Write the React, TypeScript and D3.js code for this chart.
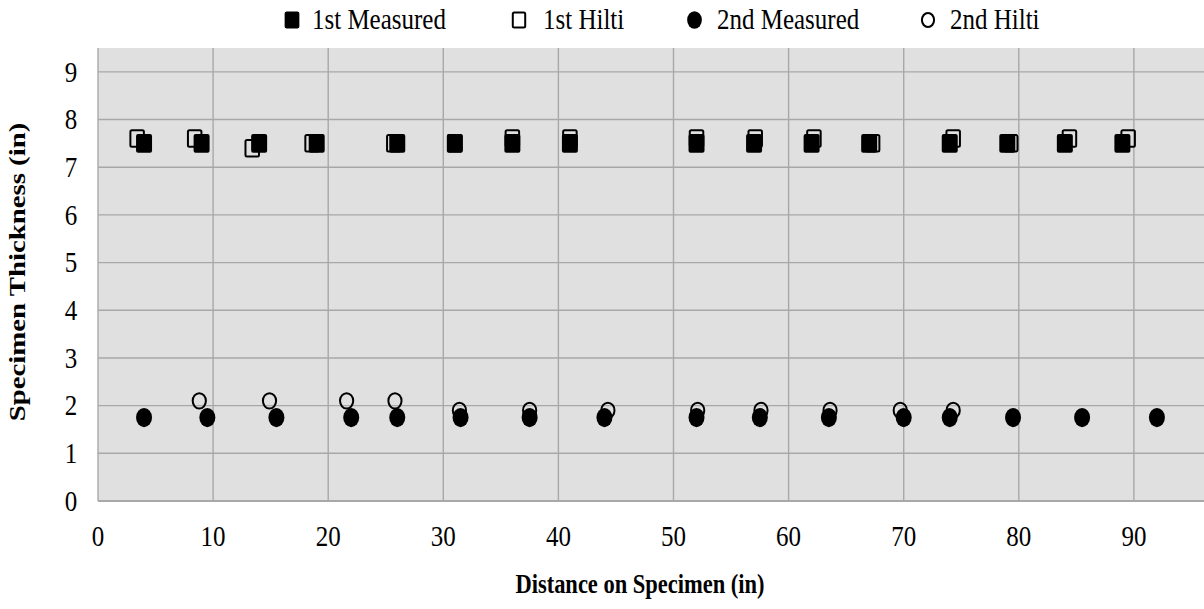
import React from "react";
import * as d3 from "d3";

// ---- data ----
const xTicks = [0, 10, 20, 30, 40, 50, 60, 70, 80, 90];
const yTicks = [0, 1, 2, 3, 4, 5, 6, 7, 8, 9];

const firstMeasuredX = [4, 9, 14, 19, 26, 31, 36, 41, 52, 57, 62, 67, 74, 79, 84, 89];
const firstMeasuredY = [7.5, 7.5, 7.5, 7.5, 7.5, 7.5, 7.5, 7.5, 7.5, 7.5, 7.5, 7.5, 7.5, 7.5, 7.5, 7.5];

const firstHiltiX = [3.4, 8.4, 13.4, 18.6, 25.7, 31, 36, 41, 52, 57.1, 62.2, 67.3, 74.3, 79.3, 84.4, 89.5];
const firstHiltiY = [7.6, 7.6, 7.4, 7.5, 7.5, 7.5, 7.6, 7.6, 7.6, 7.6, 7.6, 7.5, 7.6, 7.5, 7.6, 7.6];

const secondMeasuredX = [4, 9.5, 15.5, 22, 26, 31.5, 37.5, 44, 52, 57.5, 63.5, 70, 74, 79.5, 85.5, 92];
const secondMeasuredY = [1.75, 1.75, 1.75, 1.75, 1.75, 1.75, 1.75, 1.75, 1.75, 1.75, 1.75, 1.75, 1.75, 1.75, 1.75, 1.75];

const secondHiltiX = [8.8, 14.9, 21.6, 25.8, 31.4, 37.5, 44.3, 52.1, 57.6, 63.6, 69.7, 74.3];
const secondHiltiY = [2.1, 2.1, 2.1, 2.1, 1.9, 1.9, 1.9, 1.9, 1.9, 1.9, 1.9, 1.9];

const legendLabels = ["1st Measured", "1st Hilti", "2nd Measured", "2nd Hilti"];
const xTitle = "Distance on Specimen (in)";
const yTitle = "Specimen Thickness (in)";

// ---- layout ----
const W = 1204;
const H = 609;
const left = 98;
const top = 48;
const bottom = 501;
const SY = 1.17; // vertical stretch of the original picture
const FONT = '"Liberation Serif", serif';

const zip = (xs: number[], ys: number[]) => xs.map((x, i) => ({ x, y: ys[i] }));

export default function App() {
  const xs = d3.scaleLinear().domain([0, 100]).range([left, left + 1151]);
  const ys = d3.scaleLinear().domain([0, 9.5]).range([bottom, top]);

  const fm = zip(firstMeasuredX, firstMeasuredY);
  const fh = zip(firstHiltiX, firstHiltiY);
  const sm = zip(secondMeasuredX, secondMeasuredY);
  const sh = zip(secondHiltiX, secondHiltiY);

  const grid = "#a8a8a8";

  const legendItems = [
    { kind: "fsq", mx: 292, tx: 312 },
    { kind: "osq", mx: 519, tx: 543 },
    { kind: "fci", mx: 694.5, tx: 717 },
    { kind: "oci", mx: 928, tx: 950 },
  ];
  const legY = 20;

  const marker = (kind: string, cx: number, cy: number, big: boolean, key: any) => {
    const k = big ? 1 : 0.92;
    if (kind === "fsq") {
      const w = 16 * k, h = 18.7 * k;
      return <rect key={key} x={cx - w / 2} y={cy - h / 2} width={w} height={h} rx={2} fill="#000" />;
    }
    if (kind === "osq") {
      const w = 13.5 * k, h = 16.5 * k;
      return <rect key={key} x={cx - w / 2} y={cy - h / 2} width={w} height={h} rx={1.5} fill="none" stroke="#000" strokeWidth={2} />;
    }
    if (kind === "fci") {
      return <ellipse key={key} cx={cx} cy={cy} rx={8 * k} ry={9.6 * k} fill="#000" />;
    }
    return <ellipse key={key} cx={cx} cy={cy} rx={6.6 * k} ry={7.7 * k} fill="none" stroke="#000" strokeWidth={2} />;
  };

  return (
    <svg
      width={W}
      height={H}
      style={{ position: "absolute", left: 0, top: 0, background: "#fff", fontFamily: FONT }}
    >
      {/* plot background */}
      <rect x={left} y={top} width={xs(100) - left} height={bottom - top} fill="#e0e0e0" />
      {/* gridlines */}
      {yTicks.filter((t) => t > 0).map((t) => (
        <line key={"gy" + t} x1={left} x2={W} y1={ys(t)} y2={ys(t)} stroke={grid} strokeWidth={1.4} />
      ))}
      {xTicks.map((t) => (
        <line key={"gx" + t} x1={xs(t)} x2={xs(t)} y1={top} y2={bottom} stroke={grid} strokeWidth={1.4} />
      ))}
      <line x1={left} x2={W} y1={bottom} y2={bottom} stroke="#a8a8a8" strokeWidth={2} />

      {/* y tick labels */}
      {yTicks.map((t) => (
        <text
          key={"yl" + t}
          transform={`translate(71,${ys(t)}) scale(1,${SY})`}
          textAnchor="middle"
          dominantBaseline="central"
          fontSize={25}
          fill="#000"
        >
          {t}
        </text>
      ))}
      {/* x tick labels */}
      {xTicks.map((t) => (
        <text
          key={"xl" + t}
          transform={`translate(${xs(t)},545.5) scale(1,${SY})`}
          textAnchor="middle"
          fontSize={25}
          fill="#000"
        >
          {t}
        </text>
      ))}

      {/* data */}
      <g>{fm.map((d, i) => marker("fsq", xs(d.x), ys(d.y), true, "fm" + i))}</g>
      <g>{fh.map((d, i) => marker("osq", xs(d.x), ys(d.y), true, "fh" + i))}</g>
      <g>{sm.map((d, i) => marker("fci", xs(d.x), ys(d.y), true, "sm" + i))}</g>
      <g>{sh.map((d, i) => marker("oci", xs(d.x), ys(d.y), true, "sh" + i))}</g>

      {/* legend */}
      {legendItems.map((it, i) => (
        <g key={"lg" + i}>
          {marker(it.kind, it.mx, legY, false, "lm" + i)}
          <text transform={`translate(${it.tx},29) scale(1,${SY})`} fontSize={25} fill="#000">
            {legendLabels[i]}
          </text>
        </g>
      ))}

      {/* axis titles */}
      <text
        transform={`translate(640,593) scale(1,${SY})`}
        textAnchor="middle"
        fontSize={22.5}
        fontWeight="bold"
        fill="#000"
      >
        {xTitle}
      </text>
      <text
        transform={`translate(25,272) rotate(-90) scale(1.2,1)`}
        textAnchor="middle"
        fontSize={24}
        fontWeight="bold"
        fill="#000"
      >
        {yTitle}
      </text>
    </svg>
  );
}
